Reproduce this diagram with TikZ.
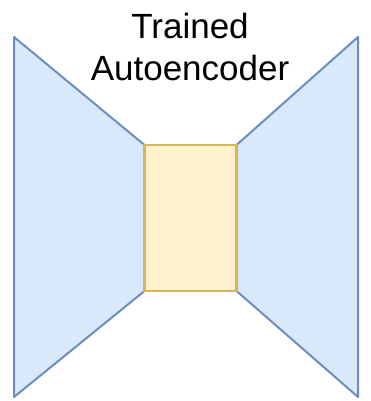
\documentclass[tikz,border=0pt]{standalone}
\usepackage{fontspec}
\setmainfont{Liberation Sans}
\usepackage{xcolor}
\usetikzlibrary{backgrounds}
\definecolor{encblue}{HTML}{DAE8FC}
\definecolor{encedge}{HTML}{6C8EBF}
\definecolor{codeyellow}{HTML}{FFF2CC}
\definecolor{codeedge}{HTML}{D6B656}

\begin{document}
\begin{tikzpicture}[x=1pt, y=-1pt, every node/.style={font=\fontsize{35}{42}\selectfont},
    halfnet/.style={draw=encedge, fill=encblue, line width=2pt, line join=round}]
    \useasboundingbox (0,0) rectangle (371,401);
    % bottleneck
    \node[draw=codeedge, fill=codeyellow, line width=2.2pt, minimum width=92pt, minimum height=146pt, inner sep=0pt, outer sep=0pt] (code) at (190.5,218) {};
    % outer corners of the two halves
    \coordinate (enctop) at (14,37);
    \coordinate (encbot) at (14,397);
    \coordinate (dectop) at (358,37);
    \coordinate (decbot) at (358,397);
    % encoder and decoder halves
    \begin{scope}[on background layer]
        \draw[halfnet] (enctop) -- (code.north west) -- (code.south west) -- (encbot) -- cycle;
        \draw[halfnet] (dectop) -- (code.north east) -- (code.south east) -- (decbot) -- cycle;
    \end{scope}
    % title
    \node[align=center, inner sep=0pt] (title) at (190,47) {Trained\\Autoencoder};
\end{tikzpicture}
\end{document}
